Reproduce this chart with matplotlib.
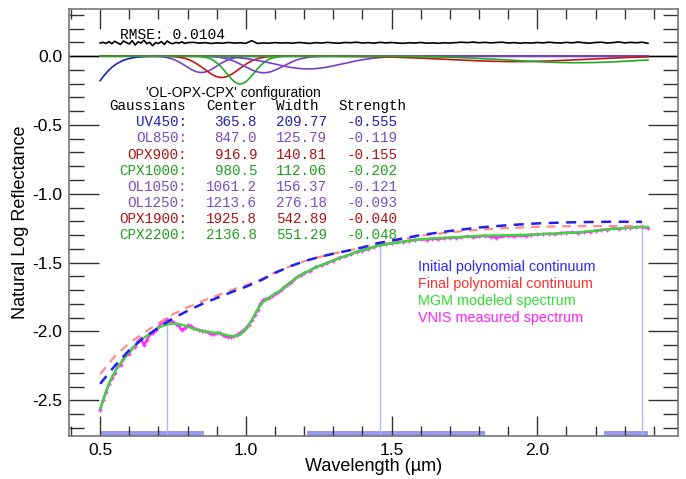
import numpy as np
import matplotlib
matplotlib.use("Agg")
import matplotlib.pyplot as plt
from matplotlib.ticker import MultipleLocator

plt.rcParams['font.family'] = ['Liberation Sans', 'DejaVu Sans']

# ---------------- data ----------------
gauss_names = ["UV450", "OL850", "OPX900", "CPX1000", "OL1050", "OL1250", "OPX1900", "CPX2200"]
gauss_center = [365.8, 847.0, 916.9, 980.5, 1061.2, 1213.6, 1925.8, 2136.8]
gauss_width = [209.77, 125.79, 140.81, 112.06, 156.37, 276.18, 542.89, 551.29]
gauss_strength = [-0.555, -0.119, -0.155, -0.202, -0.121, -0.093, -0.040, -0.048]
gauss_kind = ["UV", "OL", "OPX", "CPX", "OL", "OL", "OPX", "CPX"]

# MGM modeled spectrum (green)
model_wl = [0.50, 0.52, 0.54, 0.56, 0.58, 0.60, 0.62, 0.64, 0.66, 0.68, 0.70, 0.72, 0.74,
            0.76, 0.78, 0.80, 0.82, 0.84, 0.86, 0.88, 0.90, 0.92, 0.94, 0.96, 0.98, 1.00,
            1.02, 1.04, 1.06, 1.08, 1.10, 1.12, 1.14, 1.16, 1.18, 1.20, 1.25, 1.30, 1.35,
            1.40, 1.45, 1.50, 1.55, 1.60, 1.65, 1.70, 1.75, 1.80, 1.85, 1.90, 1.95, 2.00,
            2.05, 2.10, 2.15, 2.20, 2.25, 2.30, 2.35, 2.38]
model_val = [-2.56, -2.43, -2.33, -2.26, -2.20, -2.15, -2.10, -2.06, -2.03, -2.00, -1.975,
             -1.955, -1.945, -1.943, -1.950, -1.965, -1.980, -1.992, -2.000, -2.005, -2.010,
             -2.018, -2.030, -2.035, -2.025, -1.985, -1.920, -1.840, -1.785, -1.755, -1.725,
             -1.700, -1.665, -1.630, -1.600, -1.575, -1.525, -1.485, -1.445, -1.410, -1.380,
             -1.360, -1.345, -1.330, -1.322, -1.318, -1.312, -1.305, -1.302, -1.300, -1.298,
             -1.294, -1.290, -1.285, -1.278, -1.268, -1.257, -1.248, -1.242, -1.240]

# VNIS measured spectrum (magenta)
meas_wl_a = [round(0.50 + 0.01 * i, 2) for i in range(71)]
meas_val_a = [-2.57, -2.50, -2.44, -2.38, -2.34, -2.30, -2.25, -2.24, -2.20, -2.17, -2.16,
              -2.12, -2.11, -2.07, -2.05, -2.10, -2.06, -2.02, -2.01, -1.99, -1.97, -1.94,
              -1.92, -1.913, -1.925, -1.93, -1.945, -1.96, -1.99, -1.975, -1.955, -1.96,
              -1.975, -1.985, -1.99, -1.995, -2.00, -2.005, -2.02, -2.02, -2.01, -2.01,
              -2.025, -2.035, -2.04, -2.038, -2.035, -2.025, -2.01, -1.995, -1.975, -1.95,
              -1.92, -1.88, -1.845, -1.80, -1.77, -1.765, -1.755, -1.74, -1.725, -1.715,
              -1.70, -1.68, -1.665, -1.645, -1.635, -1.615, -1.60, -1.59, -1.575]
meas_wl_b = [round(1.22 + 0.02 * i, 2) for i in range(59)]
meas_val_b = [-1.56, -1.53, -1.52, -1.50, -1.485, -1.465, -1.455, -1.44, -1.42, -1.412,
              -1.40, -1.385, -1.372, -1.365, -1.36, -1.352, -1.348, -1.34, -1.335, -1.33,
              -1.332, -1.325, -1.33, -1.322, -1.32, -1.318, -1.316, -1.31, -1.315, -1.31,
              -1.305, -1.312, -1.318, -1.31, -1.305, -1.31, -1.302, -1.305, -1.298, -1.295,
              -1.292, -1.29, -1.293, -1.285, -1.283, -1.28, -1.285, -1.278, -1.275, -1.268,
              -1.262, -1.26, -1.252, -1.255, -1.248, -1.245, -1.242, -1.24, -1.248]

# Initial polynomial continuum (blue dashed)
init_wl = [0.50, 0.55, 0.60, 0.65, 0.70, 0.75, 0.80, 0.85, 0.90, 0.95, 1.00, 1.05, 1.10,
           1.15, 1.20, 1.25, 1.30, 1.35, 1.40, 1.45, 1.50, 1.60, 1.70, 1.80, 1.90, 2.00,
           2.10, 2.20, 2.30, 2.36]
init_val = [-2.38, -2.25, -2.135, -2.045, -1.973, -1.905, -1.850, -1.800, -1.757, -1.715,
            -1.675, -1.630, -1.575, -1.528, -1.490, -1.460, -1.435, -1.413, -1.390, -1.360,
            -1.340, -1.300, -1.270, -1.245, -1.228, -1.215, -1.208, -1.204, -1.203, -1.204]

# Final polynomial continuum (salmon dashed)
final_wl = init_wl
final_val = [-2.31, -2.18, -2.085, -2.010, -1.940, -1.875, -1.825, -1.780, -1.740, -1.700,
             -1.663, -1.623, -1.572, -1.528, -1.490, -1.460, -1.435, -1.413, -1.390, -1.362,
             -1.342, -1.305, -1.280, -1.260, -1.248, -1.240, -1.236, -1.235, -1.235, -1.236]

# Residual (offset, black)
resid_val_a = [0.095, 0.100, 0.092, 0.105, 0.090, 0.108, 0.095, 0.085, 0.110, 0.098, 0.088,
               0.112, 0.080, 0.104, 0.095, 0.115, 0.090, 0.100, 0.075, 0.098, 0.092, 0.106,
               0.085, 0.110, 0.095, 0.090, 0.100, 0.094, 0.104, 0.092, 0.098]
resid_val_b = [0.100, 0.094, 0.098, 0.092, 0.096, 0.094, 0.099, 0.095, 0.097, 0.093, 0.112,
               0.092, 0.096, 0.094, 0.098, 0.095, 0.097, 0.094, 0.099, 0.096, 0.092, 0.098,
               0.095, 0.100, 0.096, 0.094, 0.099, 0.097, 0.101, 0.095, 0.098, 0.094, 0.100,
               0.096, 0.099, 0.095, 0.093, 0.097, 0.095, 0.099, 0.094, 0.096, 0.093, 0.097,
               0.095, 0.098, 0.101, 0.098, 0.102, 0.097, 0.100, 0.096, 0.099, 0.101, 0.095,
               0.098, 0.094, 0.097, 0.095, 0.099, 0.096, 0.101, 0.097, 0.095, 0.100, 0.096,
               0.102, 0.097, 0.094, 0.099, 0.101, 0.095, 0.098, 0.103, 0.096, 0.100, 0.097,
               0.101, 0.093]
rmse = 0.0104

tie_wl = [0.729, 1.459, 2.358]
tie_val = [-1.914, -1.36, -1.22]
bands = [(0.50, 0.855), (1.21, 1.82), (2.23, 2.38)]

legend_labels = ["Initial polynomial continuum", "Final polynomial continuum",
                 "MGM modeled spectrum", "VNIS measured spectrum"]

# ---------------- styles ----------------
kind_line = {"UV": "#2222bb", "OL": "#7a3fc8", "OPX": "#c01818", "CPX": "#22aa22"}
kind_text = {"UV": "#2222aa", "OL": "#7a4fc0", "OPX": "#b01515", "CPX": "#20a020"}
legend_colors = ["#2a2aff", "#ff3030", "#30e030", "#ff20ff"]

W, H = 686, 479
fig = plt.figure(figsize=(W / 100, H / 100), dpi=100)
L, R, T, B = 69.3, 677.7, 9.3, 435.7
ax = fig.add_axes([L / W, 1 - B / H, (R - L) / W, (B - T) / H])


def px(x, y):
    return x / W, 1 - y / H


ax.set_xlim(0.394, 2.482)
ax.set_ylim(-2.757, 0.340)

# bands
for x0, x1 in bands:
    ax.axvspan(x0, x1, ymin=0, ymax=0.012, color="#9898f0", lw=0, zorder=1)

# tie lines
ax.vlines(tie_wl, -2.757, tie_val, color="#b4b4ff", lw=1.0, zorder=1)

# zero line
ax.axhline(0, color="black", lw=1.0, zorder=2)

# gaussians
gx = np.linspace(0.5, 2.38, 400)
for c, w, s, k in zip(gauss_center, gauss_width, gauss_strength, gauss_kind):
    sig = w / 1000.0 / (2 * np.sqrt(2 * np.log(2)))
    gy = s * np.exp(-(gx - c / 1000.0) ** 2 / (2 * sig ** 2))
    ax.plot(gx, gy, color=kind_line[k], lw=1.2, zorder=3)

# residual
rx_a = np.linspace(0.50, 0.80, len(resid_val_a))
rx_b = np.linspace(0.82, 2.38, len(resid_val_b))
ax.plot(np.concatenate([rx_a, rx_b]), resid_val_a + resid_val_b, color="black", lw=1.2, zorder=4)

# measured spectrum
mw = meas_wl_a + meas_wl_b
mv = meas_val_a + meas_val_b
ax.plot(mw, mv, color="#ff30ff", lw=1.8, marker="+", ms=3, mew=1.0, zorder=4)
# model
ax.plot(model_wl, model_val, color="#30e030", lw=1.6, zorder=5)
# continua
ax.plot(final_wl, final_val, color="#ff8c8c", lw=1.6, dashes=(4, 3), zorder=6)
ax.plot(init_wl, init_val, color="#2020ee", lw=1.8, dashes=(4, 3), zorder=7)

# ticks
ax.xaxis.set_major_locator(MultipleLocator(0.5))
ax.xaxis.set_minor_locator(MultipleLocator(0.1))
ax.yaxis.set_major_locator(MultipleLocator(0.5))
ax.yaxis.set_minor_locator(MultipleLocator(0.1))
ax.xaxis.set_major_formatter(matplotlib.ticker.FormatStrFormatter("%.1f"))
ax.yaxis.set_major_formatter(matplotlib.ticker.FormatStrFormatter("%.1f"))
ax.tick_params(axis="both", which="both", direction="in", top=True, right=True,
               color="#333333", labelsize=12.5)
ax.tick_params(axis="x", which="major", length=14.4, width=1.0, pad=5)
ax.tick_params(axis="x", which="minor", length=7.2, width=1.0)
ax.tick_params(axis="y", which="major", length=21.6, width=1.0, pad=5)
ax.tick_params(axis="y", which="minor", length=10.8, width=1.0)
for sp in ax.spines.values():
    sp.set_color("#777777")
    sp.set_linewidth(1.2)

ax.set_xlabel("Wavelength (µm)", fontsize=13)
ax.xaxis.set_label_coords(0.5, -0.052)
ax.set_ylabel("Natural Log Reflectance", fontsize=13)
ax.yaxis.set_label_coords(-0.066, 0.5)

# RMSE text
mono = ["Liberation Mono", "DejaVu Sans Mono"]
fig.text(*px(120, 35), "RMSE: %.4f" % rmse, family=mono, fontsize=10.5, va="center", ha="left")

# configuration table
fig.text(*px(233, 92.7), "'OL-OPX-CPX' configuration", fontsize=10, ha="center", va="center")
hy = 105.7
fig.text(*px(109, hy), "Gaussians", family=mono, fontsize=10.3, ha="left", va="center")
fig.text(*px(257, hy), "Center", family=mono, fontsize=10.3, ha="right", va="center")
fig.text(*px(276, hy), "Width", family=mono, fontsize=10.3, ha="left", va="center")
fig.text(*px(338, hy), "Strength", family=mono, fontsize=10.3, ha="left", va="center")
for i, (n, c, w, s, k) in enumerate(zip(gauss_names, gauss_center, gauss_width,
                                        gauss_strength, gauss_kind)):
    y = 122.3 + 16.15 * i
    col = kind_text[k]
    fig.text(*px(187, y), n + ":", family=mono, fontsize=10.3, ha="right", va="center", color=col)
    fig.text(*px(257, y), "%.1f" % c, family=mono, fontsize=10.3, ha="right", va="center", color=col)
    fig.text(*px(327, y), "%.2f" % w, family=mono, fontsize=10.3, ha="right", va="center", color=col)
    fig.text(*px(397.5, y), "%.3f" % s, family=mono, fontsize=10.3, ha="right", va="center", color=col)

# legend texts
for i, (lab, col) in enumerate(zip(legend_labels, legend_colors)):
    fig.text(*px(417.7, 266.7 + 17.2 * i), lab, fontsize=10.4, color=col, ha="left", va="center")

fig.savefig("out.png", dpi=100)
